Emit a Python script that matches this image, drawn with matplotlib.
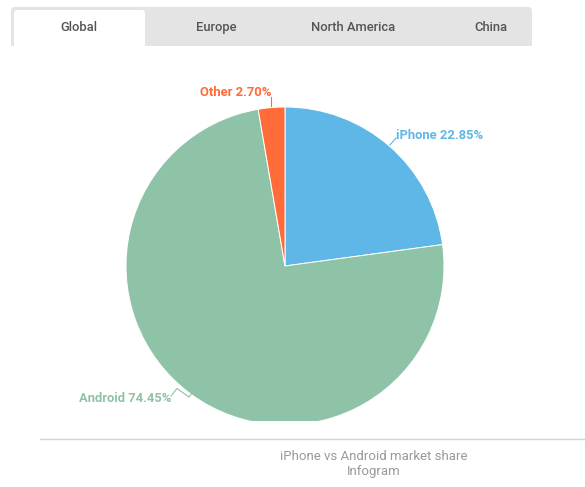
import matplotlib
matplotlib.use("Agg")
import matplotlib.pyplot as plt
from matplotlib.patches import Rectangle, FancyBboxPatch

#-----------------
# Data
#-----------------
labels = ["iPhone", "Android", "Other"]
shares = [22.85, 74.45, 2.70]
colors = ["#5EB7E6", "#8EC3A7", "#FF6B39"]
tabs = ["Global", "Europe", "North America", "China"]
caption = ["iPhone vs Android market share", "Infogram"]

W, H = 585, 487
plt.rcParams["font.family"] = ["Roboto", "DejaVu Sans"]

fig = plt.figure(figsize=(W / 100, H / 100), dpi=100)

# Page layer in pixel coords
bg = fig.add_axes([0, 0, 1, 1])
bg.set_xlim(0, W)
bg.set_ylim(H, 0)
bg.axis("off")

# Tab bar: rounded on top, square at the bottom
bg.add_patch(FancyBboxPatch((11, 7), 521, 39, boxstyle="round,pad=0,rounding_size=4",
                            fc="#E4E4E4", ec="none"))
bg.add_patch(Rectangle((11, 36), 521, 10, fc="#E4E4E4", ec="none"))
bg.add_patch(FancyBboxPatch((14, 10), 131, 36, boxstyle="round,pad=0,rounding_size=3",
                            fc="white", ec="none"))
bg.add_patch(Rectangle((14, 36), 131, 10, fc="white", ec="none"))
tab_x = [79, 216, 353, 491]
for x, t in zip(tab_x, tabs):
    bg.text(x, 31, t, ha="center", va="baseline", fontsize=9.4, fontweight="medium",
            color="#555555")

# Footer
bg.plot([40, 585], [439, 439], color="#D4D4D4", lw=1)
bg.text(373.5, 459.5, caption[0], ha="center", va="baseline", fontsize=9.5, color="#999999")
bg.text(373.5, 475, caption[1], ha="center", va="baseline", fontsize=9.5, color="#999999")

# Pie: centre (285, 266), radius 159 px
R, cx, cy = 159, 285, 266
ax = fig.add_axes([(cx - R) / W, 1 - (cy + R) / H, 2 * R / W, 2 * R / H])
ax.pie(shares, colors=colors, startangle=90, counterclock=False, radius=1,
       wedgeprops={"edgecolor": "white", "linewidth": 0.7})
ax.set_xlim(-1, 1)
ax.set_ylim(-1, 1)

# Hide the pie below the clip line, as in the reference
top = fig.add_axes([0, 0, 1, 1])
top.set_xlim(0, W)
top.set_ylim(H, 0)
top.axis("off")
top.patch.set_alpha(0)
top.add_patch(Rectangle((100, 421), 380, 17, fc="white", ec="none"))

# Data labels
top.plot([390, 396], [145, 138], color=colors[0], lw=0.8)
top.text(396, 139, f"{labels[0]} {shares[0]:.2f}%", va="baseline", fontsize=9.4,
         fontweight="bold", color=colors[0])
top.plot([171, 177, 189, 192], [396, 388.5, 397, 393], color=colors[1], lw=0.8)
top.text(79, 401.5, f"{labels[1]} {shares[1]:.2f}%", va="baseline", fontsize=9.4,
         fontweight="bold", color=colors[1])
top.plot([271, 271], [97, 106], color=colors[2], lw=0.8)
top.text(200, 96.5, f"{labels[2]} {shares[2]:.2f}%", va="baseline", fontsize=9.4,
         fontweight="bold", color=colors[2])

fig.savefig("out.png", dpi=100)
